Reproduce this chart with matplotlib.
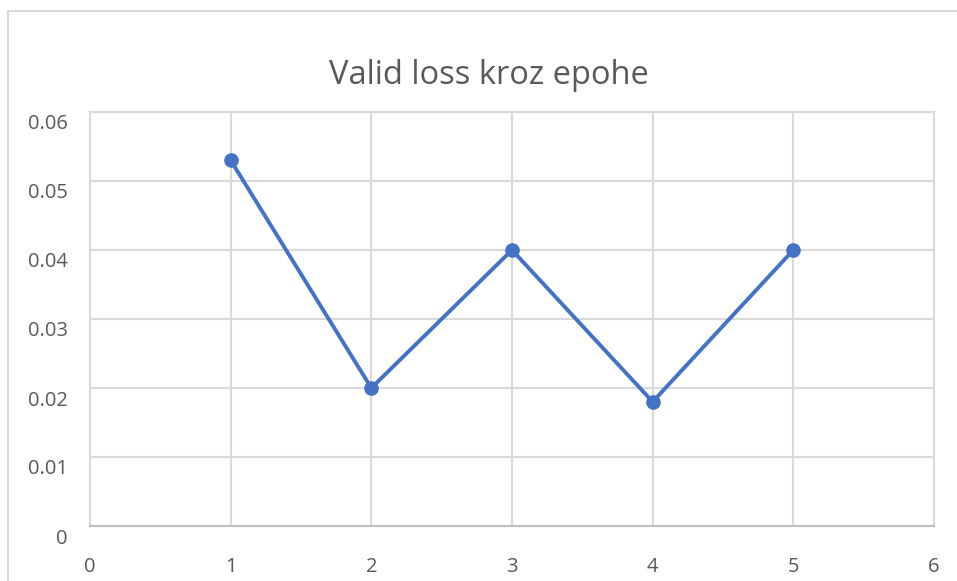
import matplotlib.pyplot as plt
import matplotlib.transforms as mtransforms
from matplotlib.lines import Line2D

epochs = [1, 2, 3, 4, 5]
valid_loss = [0.053, 0.020, 0.040, 0.018, 0.040]
x_ticks = [0, 1, 2, 3, 4, 5, 6]
y_ticks = [0, 0.01, 0.02, 0.03, 0.04, 0.05, 0.06]
y_tick_labels = ['0', '0.01', '0.02', '0.03', '0.04', '0.05', '0.06']
title = 'Valid loss kroz epohe'

plt.rcParams['font.family'] = ['Open Sans', 'DejaVu Sans']

fig = plt.figure(figsize=(9.57, 5.81), dpi=100)
ax = fig.add_axes([90 / 957, 1 - 526 / 581, (934 - 90) / 957, (526 - 112) / 581])

ax.plot(epochs, valid_loss, color='#4472C4', lw=2.8, marker='o', markersize=9.5,
        solid_capstyle='round', zorder=3)

ax.set_xlim(0, 6)
ax.set_ylim(0, 0.06)
ax.set_xticks(x_ticks)
ax.set_yticks(y_ticks)
ax.set_yticklabels(y_tick_labels)
ax.grid(True, color='#D9D9D9', lw=1.5)
ax.set_axisbelow(True)
for side in ['top', 'right', 'left']:
    ax.spines[side].set_color('#D9D9D9')
    ax.spines[side].set_linewidth(1.5)
ax.spines['bottom'].set_color('#BFBFBF')
ax.spines['bottom'].set_linewidth(1.5)

ax.tick_params(axis='both', length=0, labelsize=14.5, labelcolor='#595959')
ax.tick_params(axis='x', pad=22)
ax.tick_params(axis='y', pad=16)

# Excel puts the y labels a bit below their gridlines
offset = mtransforms.ScaledTranslation(0, -10 / 100, fig.dpi_scale_trans)
for lab in ax.get_yticklabels():
    lab.set_transform(lab.get_transform() + offset)

fig.text(489 / 957, 1 - 76 / 581, title, ha='center', va='center',
         fontsize=23.5, color='#595959')

# chart frame (left and top edges visible)
fig.add_artist(Line2D([8 / 957, 8 / 957], [0, 1 - 11 / 581], transform=fig.transFigure,
                      color='#D9D9D9', lw=1.5))
fig.add_artist(Line2D([8 / 957, 1], [1 - 11 / 581, 1 - 11 / 581], transform=fig.transFigure,
                      color='#D9D9D9', lw=1.5))

fig.savefig('out.png', dpi=100)
